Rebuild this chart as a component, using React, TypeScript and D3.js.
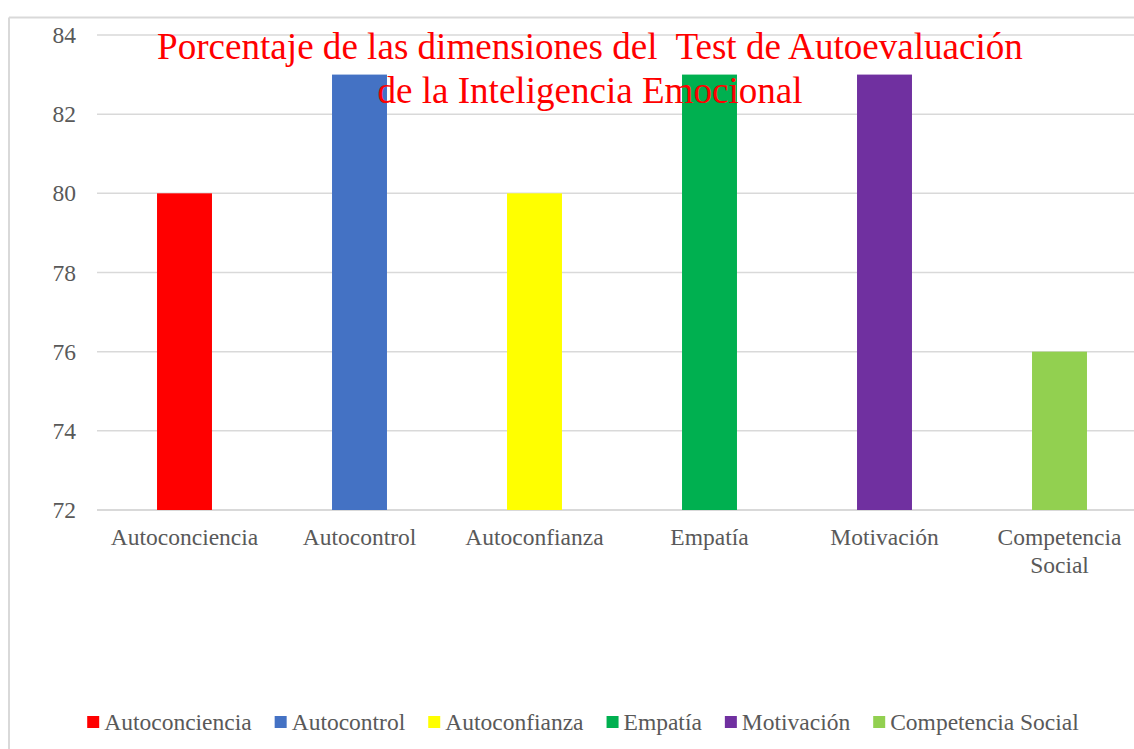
import React from "react";
import * as d3 from "d3";

const categories = ["Autoconciencia", "Autocontrol", "Autoconfianza", "Empatía", "Motivación", "Competencia Social"];
const categoryLines = [["Autoconciencia"], ["Autocontrol"], ["Autoconfianza"], ["Empatía"], ["Motivación"], ["Competencia", "Social"]];
const values = [80, 83, 80, 83, 83, 76];
const colors = ["#FF0000", "#4472C4", "#FFFF00", "#00B050", "#7030A0", "#92D050"];
const yTicks = [72, 74, 76, 78, 80, 82, 84];
const titleLines = ["Porcentaje de las dimensiones del  Test de Autoevaluación", "de la Inteligencia Emocional"];

const W = 1134;
const H = 749;
const FONT = "Liberation Serif, Times New Roman, serif";
const GRID = "#d9d9d9";
const TXT = "#595959";

function measure(text: string, size: number) {
  const c = document.createElement("canvas");
  const ctx = c.getContext("2d")!;
  ctx.font = `${size}px 'Liberation Serif'`;
  return ctx.measureText(text).width;
}

export default function App() {
  const x = d3.scaleBand<string>().domain(categories).range([97, 1147]).padding(0);
  const y = d3.scaleLinear().domain([72, 84]).range([510, 35]);
  const barW = x.bandwidth() * 0.314;

  const legendSize = 23.5;
  const sq = 12;
  const gapSq = 5;
  const gapItem = 23;
  const widths = categories.map((c) => measure(c, legendSize));
  const total = widths.reduce((a, w) => a + sq + gapSq + w, 0) + gapItem * (categories.length - 1);
  let lx = 583 - total / 2;
  const legendItems = categories.map((c, i) => {
    const item = { x: lx, label: c, color: colors[i] };
    lx += sq + gapSq + widths[i] + gapItem;
    return item;
  });

  return (
    <svg width={W} height={H} style={{ position: "fixed", left: 0, top: 0, background: "#fff", fontFamily: FONT }}>
      <rect x={0} y={0} width={W} height={H} fill="#fff" />
      <line x1={9} y1={17.5} x2={W} y2={17.5} stroke={GRID} strokeWidth={2} />
      <line x1={9} y1={17.5} x2={9} y2={H} stroke={GRID} strokeWidth={2} />
      {yTicks.map((t) => (
        <g key={t}>
          <line x1={97} x2={1147} y1={y(t)} y2={y(t)} stroke={GRID} strokeWidth={t === 72 ? 2 : 1.5} />
          <text x={76} y={y(t) + 8} textAnchor="end" fontSize={23.5} fill={TXT} style={{ fontFamily: FONT }}>{String(t)}</text>
        </g>
      ))}
      {categories.map((c, i) => (
        <rect key={c} x={x(c)! + x.bandwidth() / 2 - barW / 2} y={y(values[i])} width={barW} height={y(72) - y(values[i])} fill={colors[i]} />
      ))}
      {titleLines.map((l, i) => (
        <text key={i} x={590} y={59 + i * 44} textAnchor="middle" fontSize={37.1} fill="#FF0000" style={{ fontFamily: FONT, whiteSpace: "pre" }}>{l}</text>
      ))}
      {categories.map((c, i) => (
        <text key={c} x={x(c)! + x.bandwidth() / 2} y={545} textAnchor="middle" fontSize={23.5} fill={TXT} style={{ fontFamily: FONT }}>
          {categoryLines[i].map((ln, j) => (
            <tspan key={j} x={x(c)! + x.bandwidth() / 2} dy={j === 0 ? 0 : 28}>{ln}</tspan>
          ))}
        </text>
      ))}
      {legendItems.map((it) => (
        <g key={it.label}>
          <rect x={it.x} y={716} width={sq} height={sq} fill={it.color} />
          <text x={it.x + sq + gapSq} y={730} fontSize={legendSize} fill={TXT} style={{ fontFamily: FONT }}>{it.label}</text>
        </g>
      ))}
    </svg>
  );
}
